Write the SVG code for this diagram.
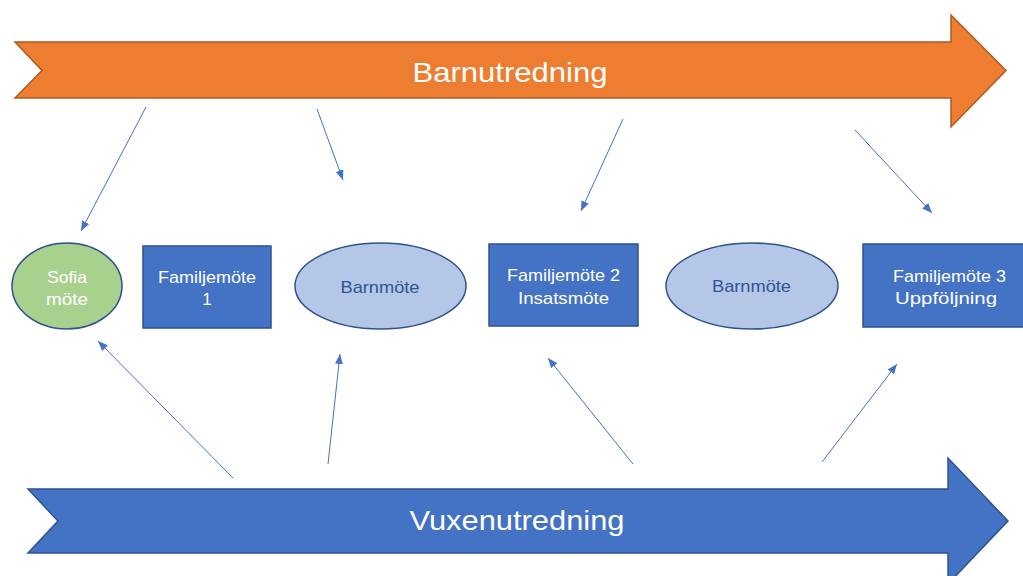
<svg xmlns="http://www.w3.org/2000/svg" width="1023" height="576" viewBox="0 0 1023 576">
<style>
.big{font-family:"Liberation Sans",Arial,sans-serif;font-size:28px;fill:#fff;text-anchor:middle}
.lbl{font-family:"Liberation Sans",Arial,sans-serif;font-size:17px;fill:#fff;text-anchor:middle}
.dark{fill:#2F5597}
.box{fill:#4472C4;stroke:#2F528F;stroke-width:1.5}
.ell{fill:#B4C7E7;stroke:#2F528F;stroke-width:1.5}
.green{fill:#A9D18E;stroke:#2F528F;stroke-width:1.5}
.con{stroke:#4472C4;stroke-width:1;fill:none;marker-end:url(#ah)}
</style>
<defs>
<marker id="ah" markerWidth="12" markerHeight="10" refX="10" refY="4" orient="auto" markerUnits="userSpaceOnUse">
<path d="M0,0 L10,4 L0,8 Z" fill="#4472C4"/>
</marker>
</defs>
<rect width="1023" height="576" fill="#fff"/>
<g id="barnutredning">
<path d="M15,42 L951,42 L951,15 L1006,70.5 L951,127 L951,98 L15,98 L42,70.5 Z" fill="#ED7D31" stroke="#AE5A21" stroke-width="1.5"/>
<text class="big" x="510" y="82" textLength="195" lengthAdjust="spacingAndGlyphs">Barnutredning</text>
</g>
<g id="vuxenutredning">
<path d="M28,489 L948,489 L948,458 L1008,521 L948,584 L948,553 L28,553 L58,521 Z" fill="#4472C4" stroke="#2F528F" stroke-width="1.5"/>
<text class="big" x="517" y="530" textLength="215" lengthAdjust="spacingAndGlyphs">Vuxenutredning</text>
</g>
<g id="sofia">
<ellipse class="green" cx="67" cy="286" rx="55" ry="43"/>
<text class="lbl" x="67" y="283" textLength="40" lengthAdjust="spacingAndGlyphs">Sofia</text>
<text class="lbl" x="67" y="305" textLength="42" lengthAdjust="spacingAndGlyphs">möte</text>
</g>
<g id="familjemote1">
<rect class="box" x="143" y="246" width="128" height="82"/>
<text class="lbl" x="207" y="283" textLength="98" lengthAdjust="spacingAndGlyphs">Familjemöte</text>
<text class="lbl" x="207" y="305">1</text>
</g>
<g id="barnmote1">
<ellipse class="ell" cx="380.5" cy="286" rx="85.5" ry="43"/>
<text class="lbl dark" x="380" y="293" textLength="79" lengthAdjust="spacingAndGlyphs">Barnmöte</text>
</g>
<g id="familjemote2">
<rect class="box" x="489" y="244" width="149" height="82"/>
<text class="lbl" x="563.5" y="281" textLength="113" lengthAdjust="spacingAndGlyphs">Familjemöte 2</text>
<text class="lbl" x="563.5" y="304" textLength="91" lengthAdjust="spacingAndGlyphs">Insatsmöte</text>
</g>
<g id="barnmote2">
<ellipse class="ell" cx="752" cy="286" rx="86" ry="43"/>
<text class="lbl dark" x="751.5" y="292" textLength="79" lengthAdjust="spacingAndGlyphs">Barnmöte</text>
</g>
<g id="familjemote3">
<rect class="box" x="863" y="244" width="165" height="83"/>
<text class="lbl" x="949.5" y="282" textLength="113" lengthAdjust="spacingAndGlyphs">Familjemöte 3</text>
<text class="lbl" x="946" y="304" textLength="102" lengthAdjust="spacingAndGlyphs">Uppföljning</text>
</g>
<g id="connectors">
<line class="con" x1="146" y1="107" x2="81" y2="231"/>
<line class="con" x1="317" y1="109" x2="343" y2="180"/>
<line class="con" x1="623" y1="119" x2="581" y2="211"/>
<line class="con" x1="855" y1="130" x2="932" y2="213"/>
<line class="con" x1="233" y1="478" x2="98" y2="341"/>
<line class="con" x1="328" y1="464" x2="340" y2="354"/>
<line class="con" x1="633" y1="464" x2="548" y2="358"/>
<line class="con" x1="822" y1="462" x2="897" y2="364"/>
</g>
</svg>
